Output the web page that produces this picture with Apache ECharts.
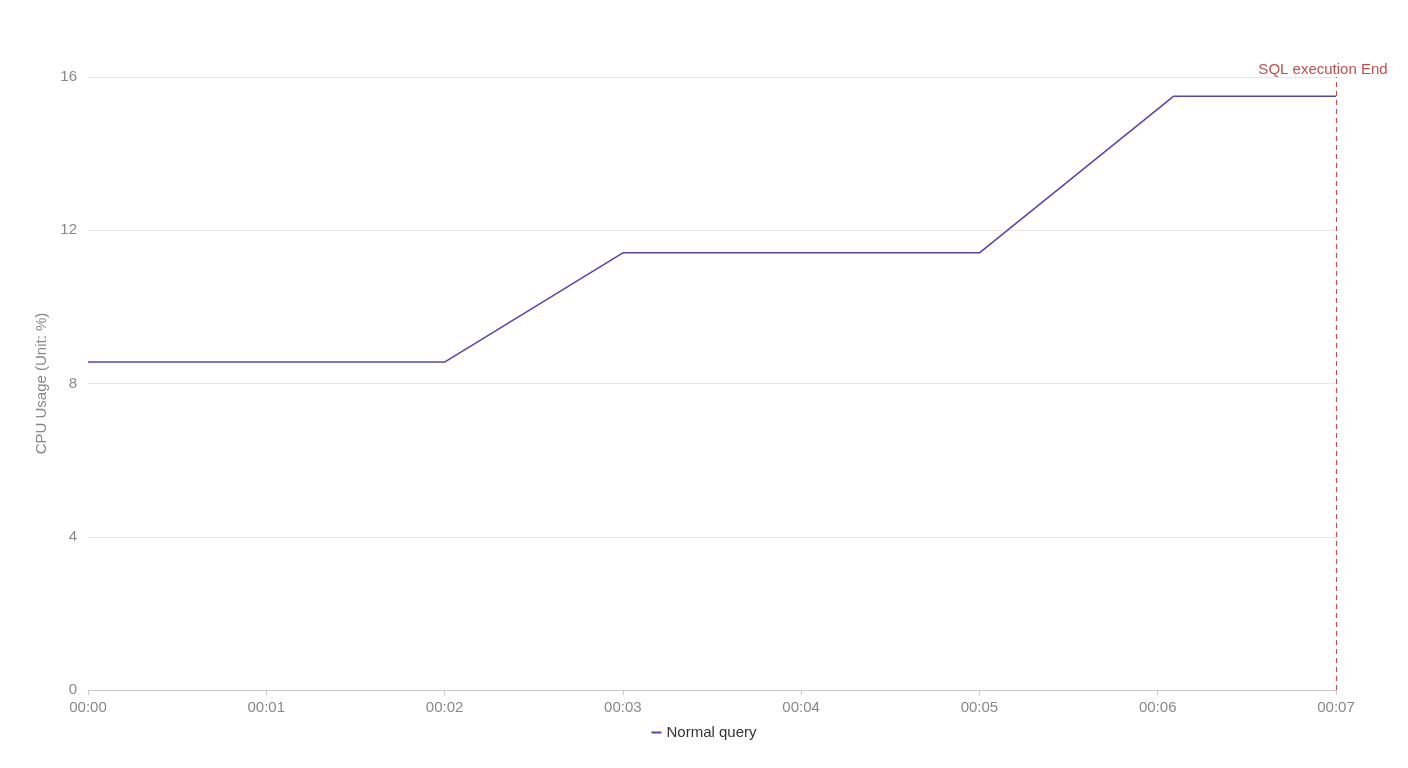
<!DOCTYPE html>
<html>
<head>
<meta charset="utf-8">
<script src="https://cdn.jsdelivr.net/npm/echarts@6/dist/echarts.min.js"></script>
<style>
html,body{margin:0;padding:0;background:#fff;}
#c{width:1408px;height:768px;}
</style>
</head>
<body>
<div id="c"></div>
<script>
// Time in minutes since start
const timeMinutes = [0, 2, 3, 5, 6.09, 7];
const cpuUsage = [8.56, 8.56, 11.41, 11.41, 15.5, 15.5];
const seriesName = 'Normal query';
const yAxisName = 'CPU Usage (Unit: %)';
const endMarkerTime = 7;
const endMarkerLabel = 'SQL execution End';

function pad(n){ return (n < 10 ? '0' : '') + n; }

const chart = echarts.init(document.getElementById('c'));
chart.setOption({
  animation: false,
  textStyle: { fontFamily: 'Liberation Sans, Arial, sans-serif' },
  grid: { left: 88, right: 72, top: 77, bottom: 78 },
  legend: {
    data: [{ name: seriesName, icon: 'rect' }],
    bottom: 23,
    left: 'center',
    itemWidth: 10,
    itemHeight: 2,
    itemGap: 8,
    textStyle: { color: '#333', fontSize: 15 }
  },
  xAxis: {
    type: 'value',
    min: 0,
    max: 7,
    interval: 1,
    axisLine: { lineStyle: { color: '#ccc' } },
    axisTick: { show: true, lineStyle: { color: '#ccc' } },
    splitLine: { show: false },
    axisLabel: {
      color: '#888',
      fontSize: 15,
      margin: 10,
      formatter: v => '00:' + pad(Math.round(v))
    }
  },
  yAxis: {
    type: 'value',
    min: 0,
    max: 16,
    interval: 4,
    name: yAxisName,
    nameLocation: 'middle',
    nameGap: 36,
    nameTextStyle: { color: '#888', fontSize: 15 },
    axisLine: { show: false },
    axisTick: { show: false },
    splitLine: { lineStyle: { color: '#e8e8e8' } },
    axisLabel: { color: '#888', fontSize: 15, margin: 11, padding: [2, 0, 0, 0] }
  },
  series: [{
    name: seriesName,
    type: 'line',
    data: timeMinutes.map((t, i) => [t, cpuUsage[i]]),
    showSymbol: false,
    symbol: 'none',
    lineStyle: { color: '#5a40b5', width: 1.5 },
    itemStyle: { color: '#5a40b5' },
    markLine: {
      silent: true,
      symbol: ['none', 'none'],
      lineStyle: { color: '#c0504d', type: [5, 4], width: 1.2 },
      label: {
        show: true,
        position: 'end',
        formatter: endMarkerLabel,
        color: '#c0504d',
        fontSize: 15,
        offset: [-13, 5]
      },
      data: [{ xAxis: endMarkerTime }]
    }
  }]
});
</script>
</body>
</html>
